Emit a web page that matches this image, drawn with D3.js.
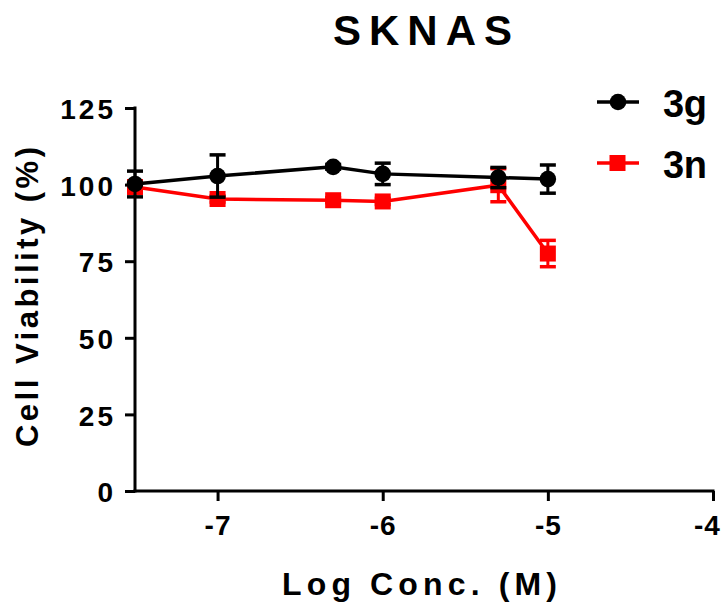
<!DOCTYPE html>
<html><head><meta charset="utf-8">
<script src="https://cdn.jsdelivr.net/npm/d3@7"></script>
<style>html,body{margin:0;padding:0;background:#fff;}</style>
</head><body>
<script>
const title = "SKNAS";
const xLabel = "Log Conc. (M)";
const yLabel = "Cell Viability (%)";
const logConc = [-7.5, -7, -6.3, -6, -5.3, -5];
const series3g = [100.2, 102.8, 105.8, 103.5, 102.3, 101.8];
const err3g = [4.2, 6.9, 0.8, 3.5, 3.3, 4.6];
const series3n = [99.2, 95.3, 94.9, 94.5, 99.8, 77.5];
const err3n = [2, 1, 0.8, 1, 5.4, 4.3];
const xTicks = [-7, -6, -5, -4];
const yTicks = [0, 25, 50, 75, 100, 125];
const seriesNames = ["3g", "3n"];

const W = 726, H = 607;
const svg = d3.select("body").append("svg").attr("width", W).attr("height", H);
const font = "'Liberation Sans', Arial, sans-serif";

const x = d3.scaleLinear().domain([-7.5, -4]).range([135, 713]);
const y = d3.scaleLinear().domain([0, 125]).range([491, 108]);

// axes
const xAxis = svg.append("g").attr("transform", "translate(0,491)")
  .call(d3.axisBottom(x).tickValues(xTicks).tickSize(10).tickPadding(14).tickSizeOuter(0)
        .tickFormat(d => String(d)));
const yAxis = svg.append("g").attr("transform", "translate(135,0)")
  .call(d3.axisLeft(y).tickValues(yTicks).tickSize(10).tickPadding(12).tickSizeOuter(0));
[xAxis, yAxis].forEach(a => {
  a.select(".domain").attr("stroke", "#000").attr("stroke-width", 3);
  a.selectAll(".tick line").attr("stroke", "#000").attr("stroke-width", 3);
  a.selectAll(".tick text").attr("fill", "#000").style("font-family", font)
    .style("font-weight", "bold").style("font-size", "28px");
});
xAxis.select(".domain").attr("d", `M${x(-7.5) - 1.5},0H${x(-4) + 1.5}`);
yAxis.select(".domain").attr("d", `M0,${y(125) - 1.5}V${y(0) + 1.5}`);
yAxis.selectAll(".tick text").style("letter-spacing", "3px").attr("dx", "3px").attr("dy", "0.38em");
xAxis.selectAll(".tick text").style("letter-spacing", "1px")
  .attr("dx", d => d === -4 ? "-6px" : "0px");

// titles
svg.append("text").attr("x", 333).attr("y", 45).text(title)
  .style("font-family", font).style("font-weight", "bold").style("font-size", "42px")
  .attr("textLength", 179).attr("lengthAdjust", "spacing");
svg.append("text").attr("x", 282).attr("y", 595).text(xLabel)
  .style("font-family", font).style("font-weight", "bold").style("font-size", "32px")
  .attr("textLength", 275).attr("lengthAdjust", "spacing");
svg.append("text").attr("transform", "translate(38,447) rotate(-90)").text(yLabel)
  .style("font-family", font).style("font-weight", "bold").style("font-size", "31px")
  .attr("textLength", 300).attr("lengthAdjust", "spacing");

function drawSeries(vals, errs, color, shape) {
  const g = svg.append("g");
  const line = d3.line().x((d, i) => x(logConc[i])).y(d => y(d));
  g.append("path").datum(vals).attr("d", line).attr("fill", "none")
    .attr("stroke", color).attr("stroke-width", 3.5);
  vals.forEach((v, i) => {
    const cx = x(logConc[i]);
    const top = y(v + errs[i]), bot = y(v - errs[i]);
    g.append("line").attr("x1", cx).attr("x2", cx).attr("y1", top).attr("y2", bot)
      .attr("stroke", color).attr("stroke-width", 3);
    [top, bot].forEach(yy => g.append("line").attr("x1", cx - 8).attr("x2", cx + 8)
      .attr("y1", yy).attr("y2", yy).attr("stroke", color).attr("stroke-width", 3.5));
    if (shape === "circle") {
      g.append("circle").attr("cx", cx).attr("cy", y(v)).attr("r", 8.3).attr("fill", color);
    } else {
      g.append("rect").attr("x", cx - 8).attr("y", y(v) - 8).attr("width", 16).attr("height", 16).attr("fill", color);
    }
  });
}
drawSeries(series3n, err3n, "#ff0000", "square");
drawSeries(series3g, err3g, "#000000", "circle");

// legend
const legendY = [102, 163];
const legendColors = ["#000000", "#ff0000"];
seriesNames.forEach((name, i) => {
  const ly = legendY[i];
  svg.append("line").attr("x1", 597).attr("x2", 639).attr("y1", ly).attr("y2", ly)
    .attr("stroke", legendColors[i]).attr("stroke-width", 3.5);
  if (i === 0) svg.append("circle").attr("cx", 618).attr("cy", ly).attr("r", 8.3).attr("fill", legendColors[i]);
  else svg.append("rect").attr("x", 609.5).attr("y", ly - 8).attr("width", 16).attr("height", 16).attr("fill", legendColors[i]);
  svg.append("text").attr("x", 663).attr("y", ly + 15).text(name)
    .style("font-family", font).style("font-weight", "bold").style("font-size", "38px")
    .attr("textLength", 44).attr("lengthAdjust", "spacing");
});
</script>
</body></html>
